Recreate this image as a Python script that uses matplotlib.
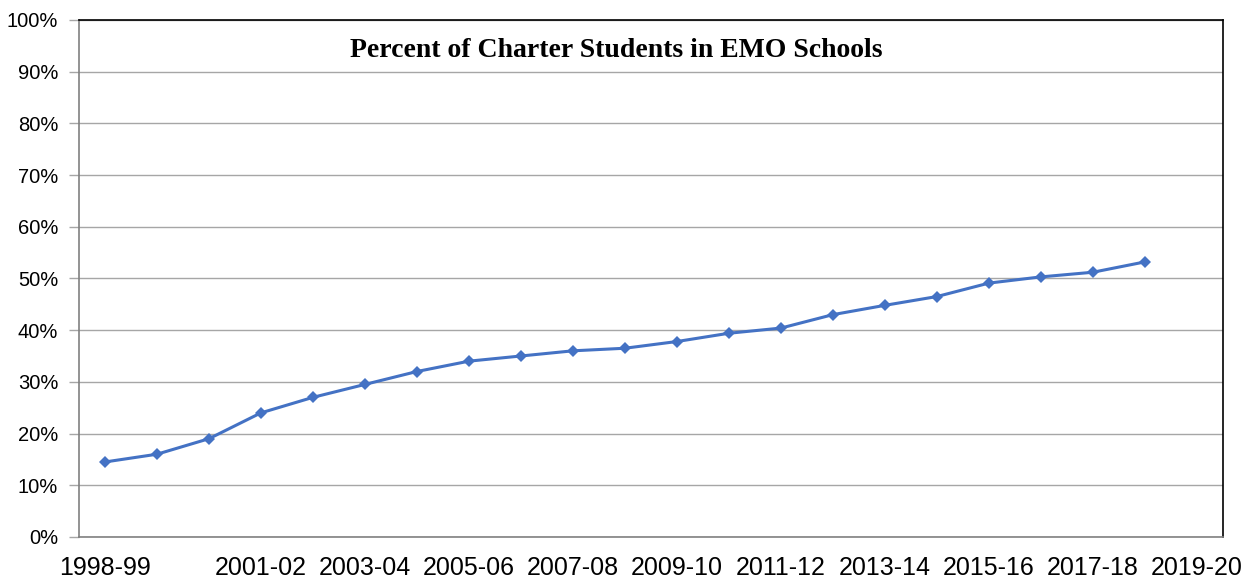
import matplotlib.pyplot as plt
import numpy as np
from matplotlib.ticker import PercentFormatter

# school years on the category axis (last one has no data)
years = [
    "1998-99", "1999-00", "2000-01", "2001-02", "2002-03", "2003-04",
    "2004-05", "2005-06", "2006-07", "2007-08", "2008-09", "2009-10",
    "2010-11", "2011-12", "2012-13", "2013-14", "2014-15", "2015-16",
    "2016-17", "2017-18", "2018-19", "2019-20",
]
# labels Excel actually printed (others were skipped)
shown_labels = [
    "1998-99", "2001-02", "2003-04", "2005-06", "2007-08", "2009-10",
    "2011-12", "2013-14", "2015-16", "2017-18", "2019-20",
]
pct_emo = [
    14.5, 16.0, 19.0, 24.0, 27.0, 29.5, 32.0, 34.0, 35.0, 36.0, 36.5,
    37.8, 39.4, 40.4, 43.0, 44.8, 46.5, 49.1, 50.3, 51.2, 53.2,
]

LINE_COLOR = "#4472C4"
GRID_COLOR = "#A6A6A6"

fig = plt.figure(figsize=(12.53, 5.83), dpi=100)
ax = fig.add_axes([0.063, 0.079, 0.913, 0.8868])

x = np.arange(len(pct_emo))
ax.plot(x, pct_emo, color=LINE_COLOR, linewidth=2.2, marker="D",
        markersize=6, markeredgewidth=0, zorder=3)

ax.set_xlim(-0.5, len(years) - 0.5)
ax.set_ylim(0, 100)
ax.set_yticks(np.arange(0, 101, 10))
ax.yaxis.set_major_formatter(PercentFormatter(decimals=0))

tick_pos = [years.index(y) for y in shown_labels]
ax.set_xticks(tick_pos)
ax.set_xticklabels(shown_labels)

ax.grid(axis="y", color=GRID_COLOR, linewidth=1.0, zorder=0)
ax.set_axisbelow(True)

ax.tick_params(axis="y", length=7, width=1, color=GRID_COLOR,
               labelsize=14.5, pad=8)
ax.tick_params(axis="x", length=0, labelsize=18, pad=14)
for lbl in ax.get_xticklabels() + ax.get_yticklabels():
    lbl.set_fontfamily("Liberation Sans")

ax.spines["left"].set_color("#808080")
ax.spines["bottom"].set_color("#808080")
ax.spines["top"].set_color("black")
ax.spines["right"].set_color("black")
for s in ax.spines.values():
    s.set_linewidth(1.2)

ax.text(0.47, 0.94, "Percent of Charter Students in EMO Schools",
        transform=ax.transAxes, ha="center", va="center",
        fontsize=20, fontweight="bold", family="Liberation Serif")

fig.savefig("out.png", dpi=100)
